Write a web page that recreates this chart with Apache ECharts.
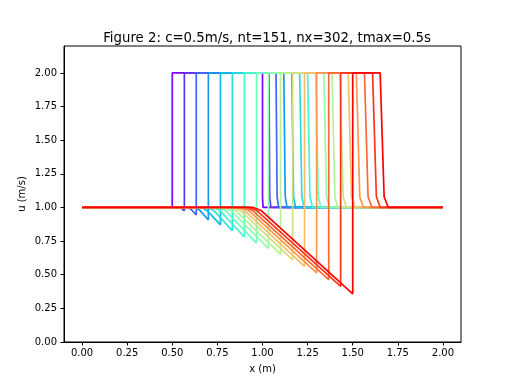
<!DOCTYPE html>
<html><head><meta charset="utf-8">
<script src="https://cdn.jsdelivr.net/npm/echarts@6/dist/echarts.min.js"></script>
<style>html,body{margin:0;padding:0;background:#fff}#c{width:512px;height:384px}</style>
</head><body><div id="c"></div>
<script>
// time levels (16 curves)
const leftEdge  = [0.500,0.567,0.633,0.700,0.767,0.833,0.900,0.967,1.033,1.100,1.167,1.233,1.300,1.367,1.433,1.500];
const dipMin    = [1.000,0.975,0.944,0.907,0.870,0.827,0.780,0.735,0.695,0.652,0.610,0.562,0.513,0.463,0.413,0.357];
const dipStart  = [0.500,0.545,0.585,0.625,0.662,0.697,0.728,0.757,0.784,0.810,0.836,0.858,0.880,0.902,0.925,0.950];
const kneeX     = [0.500,0.556,0.605,0.652,0.692,0.730,0.765,0.797,0.826,0.853,0.880,0.902,0.925,0.947,0.970,0.995];
const kneeU     = [1.000,0.988,0.985,0.980,0.978,0.977,0.976,0.975,0.975,0.975,0.975,0.975,0.975,0.975,0.975,0.975];
const rightEdge = [1.000,1.036,1.075,1.118,1.162,1.206,1.250,1.295,1.340,1.385,1.430,1.475,1.520,1.565,1.610,1.652];
const rightKneeX= [1.000,1.040,1.081,1.126,1.172,1.218,1.263,1.309,1.355,1.401,1.447,1.493,1.539,1.585,1.631,1.674];
const rightKneeU= [1.08,1.08,1.08,1.08,1.08,1.08,1.08,1.08,1.08,1.08,1.08,1.08,1.08,1.08,1.08,1.08];
const rightFoot = [1.003,1.046,1.089,1.136,1.183,1.230,1.277,1.324,1.371,1.418,1.465,1.512,1.559,1.606,1.653,1.697];
const xStart = 0.0, xEnd = 2.0, baseU = 1.0, topU = 2.0;
const xTicks = [0,0.25,0.5,0.75,1.0,1.25,1.5,1.75,2.0];
const yTicks = [0,0.25,0.5,0.75,1.0,1.25,1.5,1.75,2.0];

function rainbow(t){
  const r = Math.min(1, Math.abs(2*t-0.5));
  const g = Math.sin(Math.PI*t);
  const b = Math.cos(Math.PI*t/2);
  const h = v => Math.round(Math.max(0,Math.min(1,v))*255);
  return 'rgb('+h(r)+','+h(g)+','+h(b)+')';
}
const n = leftEdge.length;
const series = [];
for (let k=0;k<n;k++){
  series.push({
    type:'line', showSymbol:false, animation:false, silent:true,
    lineStyle:{width:1.7, color:rainbow(k/(n-1))},
    data:[[xStart,baseU],[dipStart[k],baseU],[kneeX[k],kneeU[k]],[leftEdge[k],dipMin[k]],
          [leftEdge[k],topU],[rightEdge[k],topU],[rightKneeX[k],rightKneeU[k]],[rightFoot[k],baseU],[xEnd,baseU]]
  });
}
const font = {fontFamily:'DejaVu Sans', color:'#000'};
const chart = echarts.init(document.getElementById('c'), null, {renderer:'canvas'});
chart.setOption({
  animation:false,
  backgroundColor:'#fff',
  title:{text:'Figure 2: c=0.5m/s, nt=151, nx=302, tmax=0.5s', left:262, top:27, textAlign:'center',
         textStyle:Object.assign({fontSize:13.3, fontWeight:'normal'},font)},
  grid:{left:64, right:51, top:46, bottom:42, show:true, borderColor:'#000', borderWidth:1, containLabel:false},
  xAxis:{type:'value', min:-0.1, max:2.1, name:'x (m)', nameLocation:'middle', nameGap:22,
         nameMoveOverlap:false,
         nameTextStyle:Object.assign({fontSize:10},font),
         axisLine:{show:true, onZero:false, lineStyle:{color:'#000', width:1}},
         axisTick:{show:true, length:3.5, lineStyle:{color:'#000'}, customValues:xTicks},
         axisLabel:{fontSize:10, fontFamily:'DejaVu Sans', color:'#000', margin:6, customValues:xTicks,
                    formatter:v=>v.toFixed(2)},
         splitLine:{show:false}},
  yAxis:{type:'value', min:0, max:2.2, name:'u (m/s)', nameLocation:'middle', nameGap:37,
         nameMoveOverlap:false,
         nameTextStyle:Object.assign({fontSize:10},font),
         axisLine:{show:true, onZero:false, lineStyle:{color:'#000', width:1}},
         axisTick:{show:true, length:3.5, lineStyle:{color:'#000'}, customValues:yTicks},
         axisLabel:{fontSize:10, fontFamily:'DejaVu Sans', color:'#000', margin:7, customValues:yTicks,
                    formatter:v=>v.toFixed(2)},
         splitLine:{show:false}},
  series:series
});
</script></body></html>
